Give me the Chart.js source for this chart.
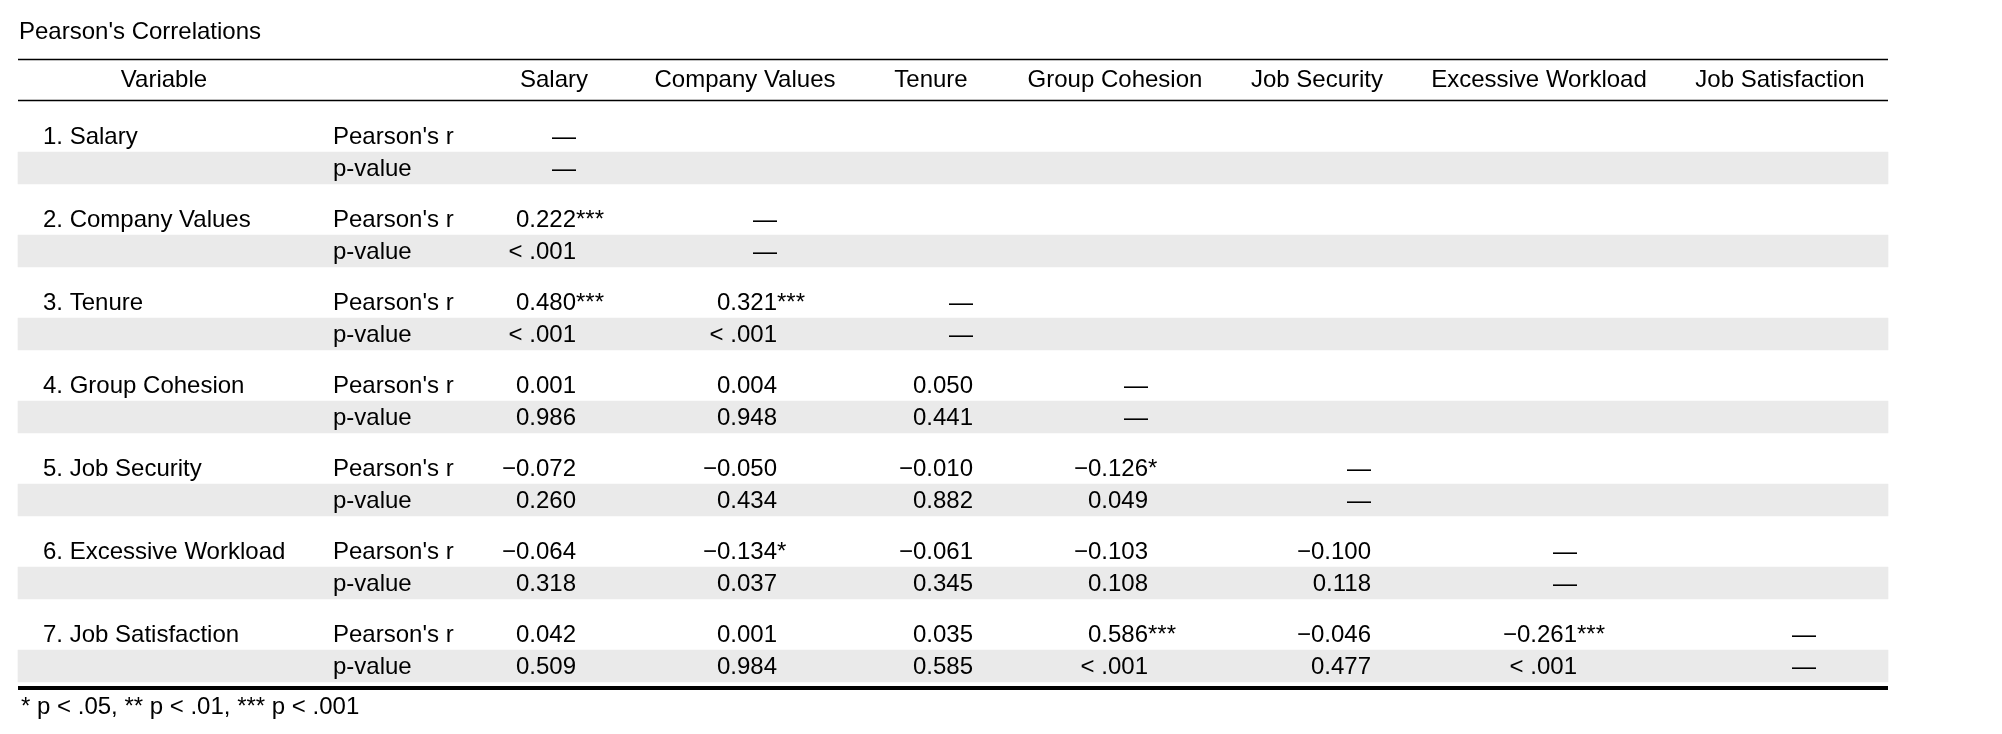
<!DOCTYPE html>
<html lang="en">
<head>
  <meta charset="UTF-8" />
  <title>Pearson's Correlations</title>
  <script src="https://cdn.jsdelivr.net/npm/chart.js"></script>
  <style>
    html, body {
      margin: 0;
      padding: 0;
      background: #fff;
    }
    .chart-container {
      position: relative;
      width: 2002px;
      height: 734px;
    }
  </style>
</head>
<body>
  <div class="chart-container">
    <canvas id="table" width="2002" height="734"></canvas>
  </div>
  <script>
    // Table content
    const title = "Pearson's Correlations";
    const variables = ['Salary', 'Company Values', 'Tenure', 'Group Cohesion',
      'Job Security', 'Excessive Workload', 'Job Satisfaction'];
    const statLabels = ["Pearson's r", 'p-value'];
    // lower triangle, row i holds the correlations with variables 0..i-1
    const rValues = [
      [],
      [0.222],
      [0.480, 0.321],
      [0.001, 0.004, 0.050],
      [-0.072, -0.050, -0.010, -0.126],
      [-0.064, -0.134, -0.061, -0.103, -0.100],
      [0.042, 0.001, 0.035, 0.586, -0.046, -0.261]
    ];
    const pValues = [
      [],
      ['< .001'],
      ['< .001', '< .001'],
      ['0.986', '0.948', '0.441'],
      ['0.260', '0.434', '0.882', '0.049'],
      ['0.318', '0.037', '0.345', '0.108', '0.118'],
      ['0.509', '0.984', '0.585', '< .001', '0.477', '< .001']
    ];
    const footnote = '* p < .05, ** p < .01, *** p < .001';

    // Layout (canvas units)
    const L = {
      left: 18, right: 1888,
      titleBase: 39, topRule: 59.5, headBase: 87, headRule: 100.5,
      bodyTop: 101, groupH: 83, spacer: 19, rowH: 32, textOff: 24,
      bottomRule: 688, footBase: 714,
      labelX: 43, statX: 333, varHeadX: 164
    };
    const colRight = [576, 777, 973, 1148, 1371, 1577, 1816];
    const colHead = [554, 745, 931, 1115, 1317, 1539, 1780];
    const FONT = '24px "Liberation Sans", Arial, sans-serif';
    const DASH = '\u2014';

    const stars = p => {
      const v = p.startsWith('<') ? 0 : parseFloat(p);
      if (v < 0.001) return '***';
      if (v < 0.01) return '**';
      if (v < 0.05) return '*';
      return '';
    };
    const fmt = r => r.toFixed(3).replace('-', '\u2212');
    const rowBase = (g, sub) => L.bodyTop + g * L.groupH + L.spacer + sub * L.rowH + L.textOff;
    const bandCenter = g => L.bodyTop + g * L.groupH + L.spacer + L.rowH * 1.5;
    const rule = y => [{ x: L.left, y: y }, { x: L.right, y: y }];

    const tableText = {
      id: 'tableText',
      afterDatasetsDraw(chart) {
        const { ctx, scales: { x, y } } = chart;
        const px = v => x.getPixelForValue(v);
        const py = v => y.getPixelForValue(v);
        ctx.save();
        ctx.font = FONT;
        ctx.fillStyle = '#000';
        ctx.textBaseline = 'alphabetic';

        ctx.textAlign = 'left';
        ctx.fillText(title, px(L.left + 1), py(L.titleBase));
        ctx.fillText(footnote, px(L.left + 3), py(L.footBase));

        // header
        ctx.textAlign = 'center';
        ctx.fillText('Variable', px(L.varHeadX), py(L.headBase));
        variables.forEach((v, i) => ctx.fillText(v, px(colHead[i]), py(L.headBase)));

        // body
        variables.forEach((v, g) => {
          ctx.textAlign = 'left';
          ctx.fillText((g + 1) + '. ' + v, px(L.labelX), py(rowBase(g, 0)));
          statLabels.forEach((s, k) => ctx.fillText(s, px(L.statX), py(rowBase(g, k))));

          rValues[g].forEach((r, c) => {
            const st = stars(pValues[g][c]);
            ctx.textAlign = 'right';
            ctx.fillText(fmt(r), px(colRight[c]), py(rowBase(g, 0)));
            ctx.fillText(pValues[g][c], px(colRight[c]), py(rowBase(g, 1)));
            if (st) {
              ctx.textAlign = 'left';
              ctx.fillText(st, px(colRight[c]), py(rowBase(g, 0)));
            }
          });
          // diagonal
          ctx.textAlign = 'right';
          ctx.fillText(DASH, px(colRight[g]), py(rowBase(g, 0)));
          ctx.fillText(DASH, px(colRight[g]), py(rowBase(g, 1)));
        });
        ctx.restore();
      }
    };

    const lineSet = (y, w) => ({
      type: 'line',
      data: rule(y),
      borderColor: '#000',
      borderWidth: w,
      pointRadius: 0,
      order: 0
    });

    new Chart(document.getElementById('table'), {
      type: 'bar',
      data: {
        datasets: [
          {
            indexAxis: 'y',
            data: variables.map((v, g) => ({ x: [L.left, L.right], y: bandCenter(g) })),
            backgroundColor: '#eaeaea',
            borderWidth: 0,
            barThickness: L.rowH,
            order: 1
          },
          lineSet(L.topRule, 1.5),
          lineSet(L.headRule, 1.5),
          lineSet(L.bottomRule, 4)
        ]
      },
      options: {
        responsive: false,
        animation: false,
        events: [],
        layout: { padding: 0 },
        scales: {
          x: { type: 'linear', min: 0, max: 2002, offset: false, grace: 0, display: false },
          y: { type: 'linear', min: 0, max: 734, offset: false, grace: 0, reverse: true, display: false }
        },
        plugins: {
          legend: { display: false },
          tooltip: { enabled: false }
        }
      },
      plugins: [tableText]
    });
  </script>
</body>
</html>
